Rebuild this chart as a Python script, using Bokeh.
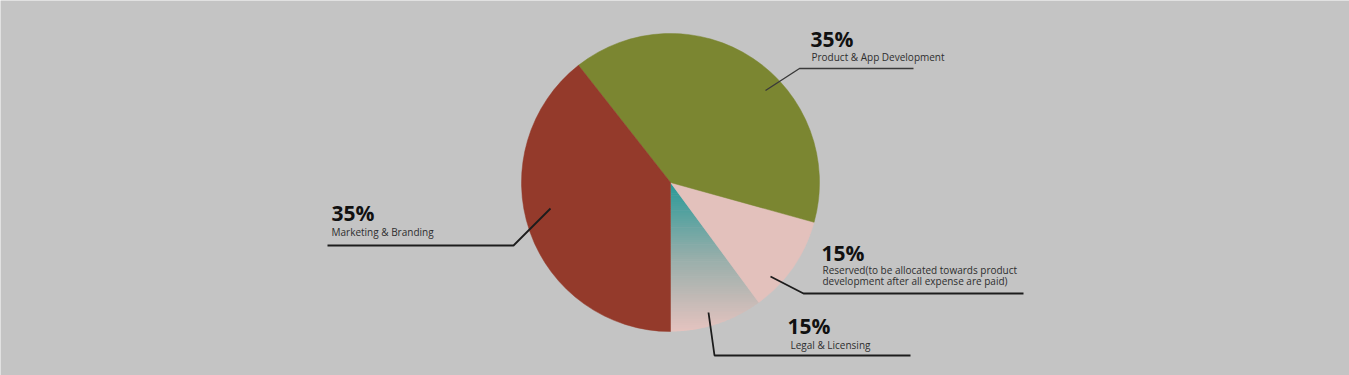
import numpy as np
from bokeh.plotting import figure
from bokeh.models import Range1d, ColumnDataSource
from bokeh.core.properties import value
from bokeh.embed import file_html
from bokeh.resources import INLINE

# ---- data (drawn shares; printed labels as shown) ----
categories = ["Legal & Licensing",
              "Reserved(to be allocated towards product\ndevelopment after all expense are paid)",
              "Product & App Development",
              "Marketing & Branding"]
pct_labels = ["15%", "15%", "35%", "35%"]
shares = [10.1, 10.6, 39.9, 39.4]          # visual share of each slice (percent)
colors = ["gradient", "#e3c1bc", "#7b8631", "#943a2b"]

# ---- layout ----
W, H = 1349, 375
BG = "#c4c4c4"
cx, cy, R = 670, 193, 149
start = -np.pi / 2

p = figure(width=W, height=H, output_backend="svg", toolbar_location=None,
           x_range=Range1d(0, W), y_range=Range1d(0, H),
           min_border=0, background_fill_color=BG, border_fill_color=BG)
p.axis.visible = False
p.grid.visible = False
p.outline_line_color = None

fr = np.array(shares) / sum(shares)
ends = start + np.cumsum(fr) * 2 * np.pi
starts = np.concatenate([[start], ends[:-1]])


def clip(poly, yval, keep_below):
    out = []
    n = len(poly)
    for i in range(n):
        a, b = poly[i], poly[(i + 1) % n]
        ina = a[1] <= yval if keep_below else a[1] >= yval
        inb = b[1] <= yval if keep_below else b[1] >= yval
        if ina:
            out.append(a)
        if ina != inb:
            t = (yval - a[1]) / (b[1] - a[1])
            out.append((a[0] + t * (b[0] - a[0]), yval))
    return out


def lerp(c1, c2, t):
    return "#%02x%02x%02x" % tuple(int(round(c1[k] + (c2[k] - c1[k]) * t)) for k in range(3))

for s, e, c in zip(starts, ends, colors):
    if c != "gradient":
        p.wedge(x=cx, y=cy, radius=R, start_angle=s, end_angle=e,
                fill_color=c, line_color=c, line_width=0.5)
    else:
        th = np.linspace(s, e, 80)
        poly = [(cx, cy)] + [(cx + R * np.cos(t), cy + R * np.sin(t)) for t in th]
        ytop, ybot = cy, cy - R
        N = 70
        c_top = (40, 153, 152)
        c_mid = (150, 174, 170)
        c_bot = (229, 195, 191)
        xs, ys, cols = [], [], []
        for i in range(N):
            y1 = ytop - (ytop - ybot) * i / N
            y0 = ytop - (ytop - ybot) * (i + 1) / N - 0.6
            pp = clip(clip(poly, y1, True), y0, False)
            if len(pp) < 3:
                continue
            t = (i + 0.5) / N
            col = lerp(c_top, c_mid, t / 0.5) if t < 0.5 else lerp(c_mid, c_bot, (t - 0.5) / 0.5)
            xs.append([q[0] for q in pp])
            ys.append([q[1] for q in pp])
            cols.append(col)
        p.patches(xs="xs", ys="ys", fill_color="c", line_color=None,
                  source=ColumnDataSource(dict(xs=xs, ys=ys, c=cols)))

# ---- leader lines (page-pixel positions converted: y_data = 375 - y_page) ----
leaders = [
    ([708, 714, 910], [63, 20, 20]),
    ([770, 803, 1023], [99, 82, 82]),
    ([765, 799, 913], [285, 307, 307]),
    ([550, 513, 327], [167, 130, 130]),
]
for (lx, ly), lw, lc in zip(leaders, [1.8, 1.8, 1.4, 1.8], ["#1c1c1c", "#1c1c1c", "#3a3a3a", "#1c1c1c"]):
    p.line(lx, ly, line_color=lc, line_width=lw)

# ---- texts ----
pct_pos = [(787, 50), (821, 123), (810, 337), (331, 163)]
lab_pos = [(790, 31), (822, 106), (811, 319), (331, 144)]
for (px_, py_), (lx_, ly_), pct, lab in zip(pct_pos, lab_pos, pct_labels, categories):
    p.text(x=[px_], y=[py_], text=[pct], text_font=value("Open Sans"),
           text_font_style="bold", text_font_size="21px", text_color="#111111",
           text_baseline="alphabetic", text_align="left")
    for k, line in enumerate(lab.split("\n")):
        p.text(x=[lx_], y=[ly_ - 11.5 * k], text=[line], text_font=value("Open Sans"),
               text_font_size="10px", text_color="#2e2e2e",
               text_baseline="alphabetic", text_align="left")

html = file_html(p, INLINE)
open("out.html", "w").write(html)
